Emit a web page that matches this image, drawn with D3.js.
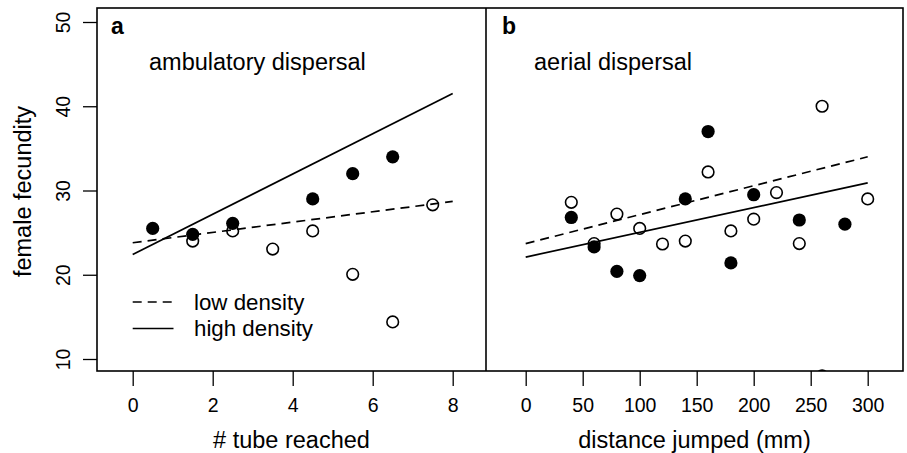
<!DOCTYPE html>
<html>
<head>
<meta charset="utf-8">
<script src="https://cdn.jsdelivr.net/npm/d3@7"></script>
<style>
  body { margin: 0; background: #fff; }
  svg { display: block; font-family: "Liberation Sans", Arial, sans-serif; }
</style>
</head>
<body>
<script>
// panel a: ambulatory dispersal
const ambHighX = [0.5, 1.5, 2.5, 4.5, 5.5, 6.5];
const ambHighY = [25.5, 24.8, 26.1, 29.0, 32.0, 34.0];
const ambLowX = [1.5, 2.5, 3.5, 4.5, 5.5, 6.5, 7.5];
const ambLowY = [24.0, 25.2, 23.05, 25.2, 20.05, 14.4, 28.3];
const ambFitX = [0, 8];
const ambFitLow = [23.8, 28.7];
const ambFitHigh = [22.4, 41.5];
const ambTicks = [0, 2, 4, 6, 8];

// panel b: aerial dispersal
const aerHighX = [40, 60, 80, 100, 140, 160, 180, 200, 240, 260, 280];
const aerHighY = [26.8, 23.3, 20.4, 19.9, 29.0, 37.0, 21.4, 29.5, 26.5, 8.0, 26.0];
const aerLowX = [40, 60, 80, 100, 120, 140, 160, 180, 200, 220, 240, 260, 300];
const aerLowY = [28.6, 23.7, 27.2, 25.5, 23.65, 24.0, 32.2, 25.2, 26.6, 29.75, 23.7, 40.0, 29.0];
const aerFitX = [0, 300];
const aerFitLow = [23.7, 34.0];
const aerFitHigh = [22.1, 30.9];
const aerTicks = [0, 50, 100, 150, 200, 250, 300];

const yTicks = [10, 20, 30, 40, 50];

const W = 907, H = 453;
const plotTop = 8, plotBottom = 371;

const svg = d3.select("body").append("svg")
    .attr("width", W)
    .attr("height", H);

const y = d3.scaleLinear().domain([10, 50]).range([359, 22]);

const panels = [
  {
    id: "a", left: 97, right: 486,
    x: d3.scaleLinear().domain([0, 8]).range([132.7, 452.7]),
    ticks: ambTicks, title: "# tube reached", note: "ambulatory dispersal", noteX: 149,
    highX: ambHighX, highY: ambHighY, lowX: ambLowX, lowY: ambLowY,
    fitX: ambFitX, fitLow: ambFitLow, fitHigh: ambFitHigh, legend: true
  },
  {
    id: "b", left: 486, right: 903,
    x: d3.scaleLinear().domain([0, 300]).range([525.7, 867.7]),
    ticks: aerTicks, title: "distance jumped (mm)", note: "aerial dispersal", noteX: 534,
    highX: aerHighX, highY: aerHighY, lowX: aerLowX, lowY: aerLowY,
    fitX: aerFitX, fitLow: aerFitLow, fitHigh: aerFitHigh, legend: false
  }
];

const line = d3.line();

panels.forEach(p => {
  const x = p.x;
  const g = svg.append("g");

  g.append("clipPath").attr("id", "clip-" + p.id)
    .append("rect")
      .attr("x", p.left).attr("y", plotTop)
      .attr("width", p.right - p.left).attr("height", plotBottom - plotTop);

  const plot = g.append("g").attr("clip-path", `url(#clip-${p.id})`);

  // fitted lines
  plot.append("path")
      .attr("d", line(p.fitX.map((v, i) => [x(v), y(p.fitLow[i])])))
      .attr("fill", "none")
      .attr("stroke", "#000")
      .attr("stroke-width", 1.7)
      .attr("stroke-dasharray", "9,6");
  plot.append("path")
      .attr("d", line(p.fitX.map((v, i) => [x(v), y(p.fitHigh[i])])))
      .attr("fill", "none")
      .attr("stroke", "#000")
      .attr("stroke-width", 1.7);

  // low density: open circles
  plot.selectAll("circle.low")
    .data(p.lowX.map((v, i) => [v, p.lowY[i]]))
    .join("circle")
      .attr("class", "low")
      .attr("cx", d => x(d[0]))
      .attr("cy", d => y(d[1]))
      .attr("r", 5.8)
      .attr("fill", "none")
      .attr("stroke", "#000")
      .attr("stroke-width", 1.6);

  // high density: filled circles
  plot.selectAll("circle.high")
    .data(p.highX.map((v, i) => [v, p.highY[i]]))
    .join("circle")
      .attr("class", "high")
      .attr("cx", d => x(d[0]))
      .attr("cy", d => y(d[1]))
      .attr("r", 6.6)
      .attr("fill", "#000");

  // x axis
  const xAxis = g.append("g")
      .attr("transform", `translate(0,${plotBottom})`)
      .call(d3.axisBottom(x).tickValues(p.ticks).tickSize(15).tickSizeOuter(0));
  xAxis.select(".domain").remove();
  xAxis.selectAll(".tick line").attr("stroke", "#000").attr("stroke-width", 1.3);
  xAxis.selectAll(".tick text")
      .attr("y", 40.7)
      .attr("dy", null)
      .attr("font-size", 19.5)
      .attr("font-family", null)
      .attr("fill", "#000");

  g.append("text")
      .attr("x", (p.left + p.right) / 2)
      .attr("y", 448)
      .attr("text-anchor", "middle")
      .attr("font-size", 23.5)
      .text(p.title);

  // panel letter and note
  g.append("text")
      .attr("x", p.id === "a" ? 111 : 502)
      .attr("y", 34)
      .attr("font-size", 23)
      .attr("font-weight", "bold")
      .text(p.id);
  g.append("text")
      .attr("x", p.noteX)
      .attr("y", 70)
      .attr("font-size", 23.5)
      .text(p.note);

  if (p.legend) {
    const legend = g.append("g");
    const items = [
      { label: "low density", dash: "9,6", yy: 302 },
      { label: "high density", dash: null, yy: 328.5 }
    ];
    items.forEach(it => {
      legend.append("line")
          .attr("x1", x(0)).attr("x2", x(1.02))
          .attr("y1", it.yy).attr("y2", it.yy)
          .attr("stroke", "#000")
          .attr("stroke-width", 1.7)
          .attr("stroke-dasharray", it.dash);
      legend.append("text")
          .attr("x", 194)
          .attr("y", it.yy + 7.5)
          .attr("font-size", 22.3)
          .text(it.label);
    });
  }
});

// y axis on the left panel
const yAxis = svg.append("g")
    .attr("transform", "translate(97,0)")
    .call(d3.axisLeft(y).tickValues(yTicks).tickSize(14).tickSizeOuter(0));
yAxis.select(".domain").remove();
yAxis.selectAll(".tick line").attr("stroke", "#000").attr("stroke-width", 1.3);
yAxis.selectAll(".tick text")
    .attr("x", null)
    .attr("dy", null)
    .attr("font-size", 19.5)
    .attr("font-family", null)
    .attr("fill", "#000")
    .attr("text-anchor", "middle")
    .attr("transform", "translate(-27,0) rotate(-90)");

svg.append("text")
    .attr("transform", `translate(31,${(plotTop + plotBottom) / 2 + 2}) rotate(-90)`)
    .attr("text-anchor", "middle")
    .attr("font-size", 23.5)
    .text("female fecundity");

// frame and divider
svg.append("rect")
    .attr("x", 97).attr("y", plotTop)
    .attr("width", 903 - 97).attr("height", plotBottom - plotTop)
    .attr("fill", "none")
    .attr("stroke", "#000")
    .attr("stroke-width", 1.6);
svg.append("line")
    .attr("x1", 486).attr("x2", 486)
    .attr("y1", plotTop).attr("y2", plotBottom)
    .attr("stroke", "#000")
    .attr("stroke-width", 1.6);
</script>
</body>
</html>
